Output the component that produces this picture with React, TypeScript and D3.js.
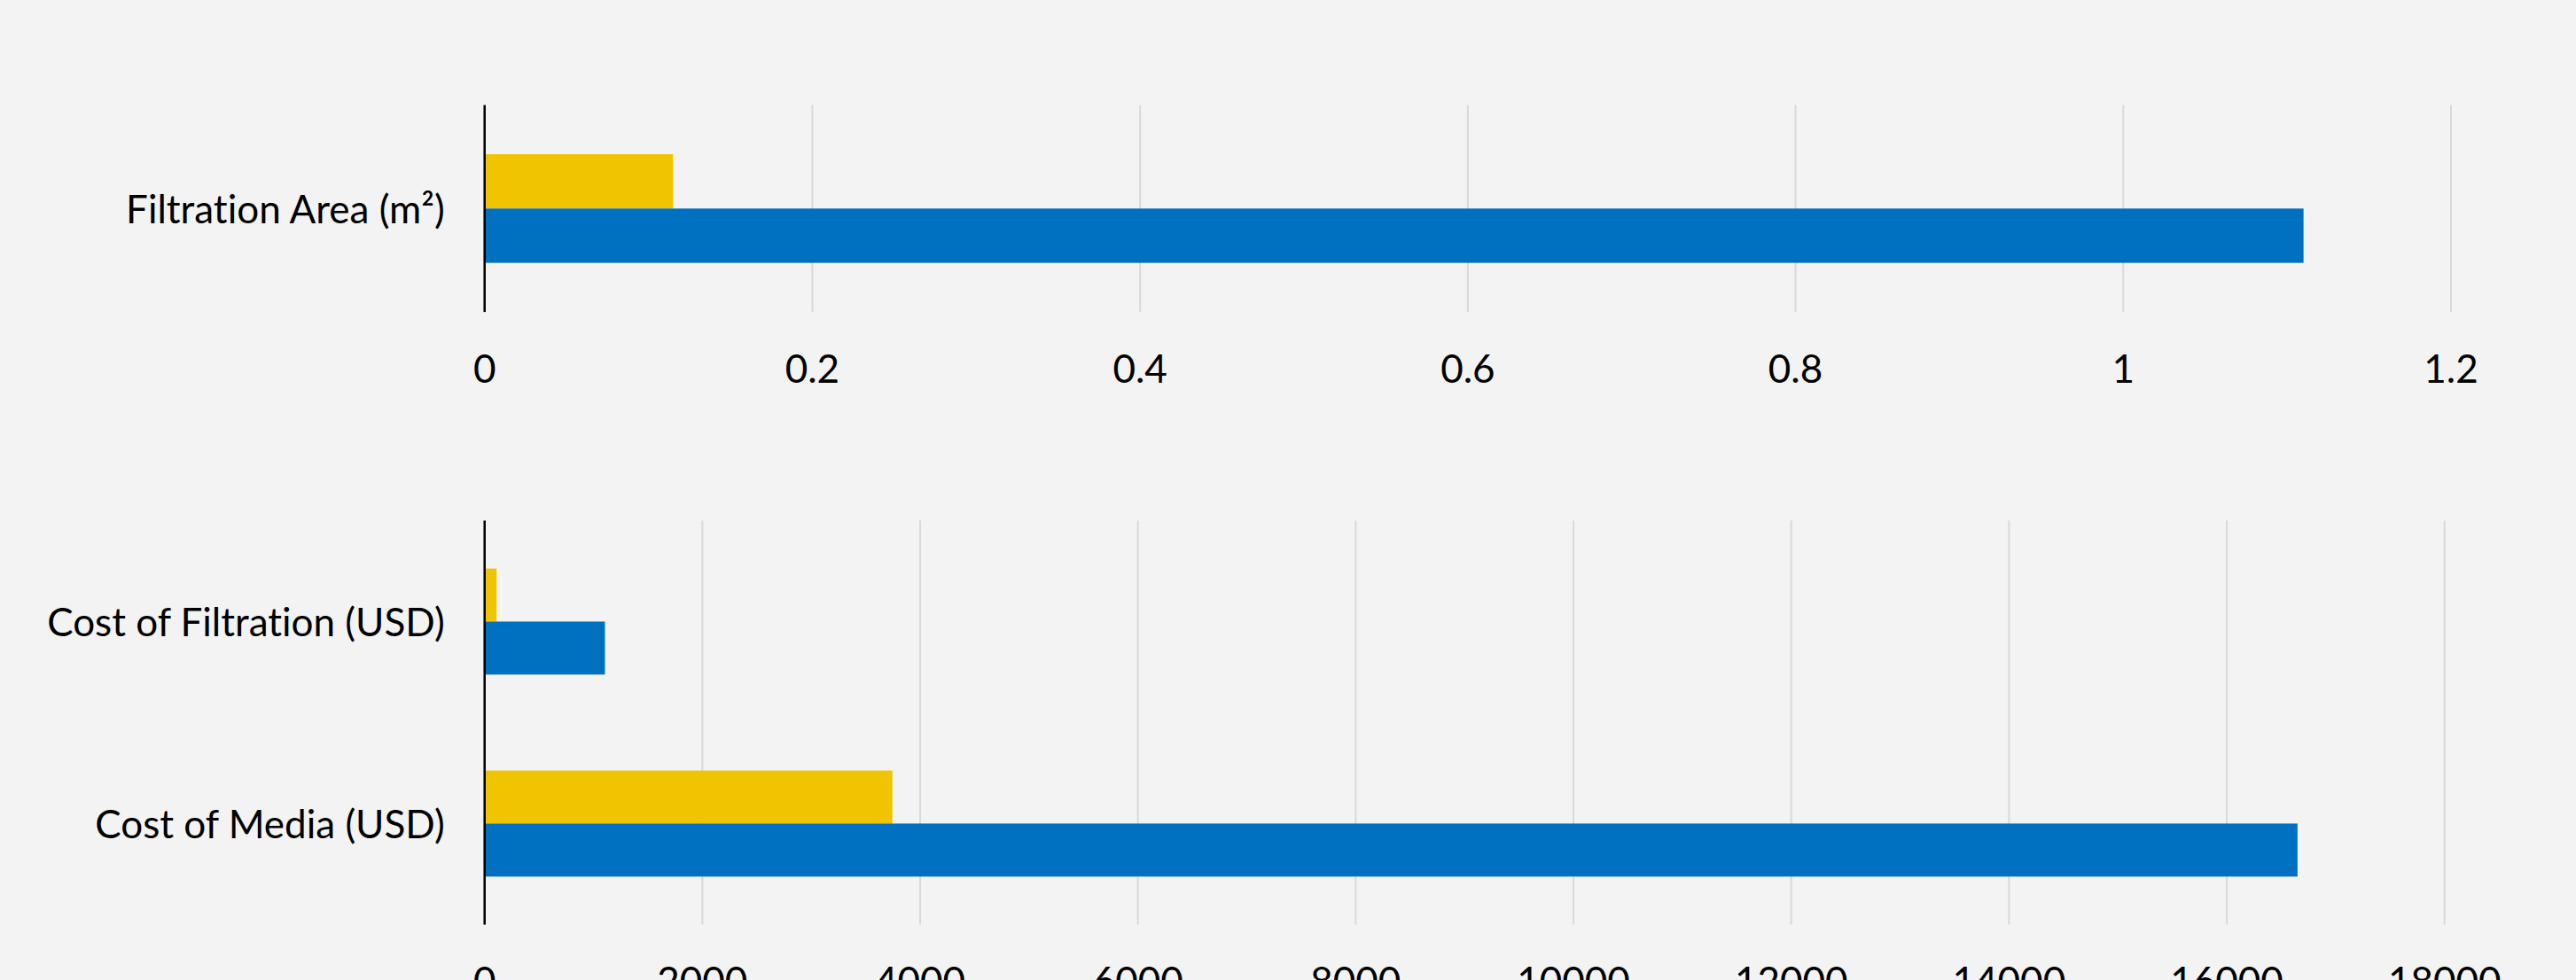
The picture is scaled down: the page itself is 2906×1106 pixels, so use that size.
import React from "react";
import * as d3 from "d3";

const topCategories = ["Filtration Area (m²)"];
const topBlue = [1.11];
const topYellow = [0.115];
const topTicks = [0, 0.2, 0.4, 0.6, 0.8, 1, 1.2];

const bottomCategories = ["Cost of Filtration (USD)", "Cost of Media (USD)"];
const bottomBlue = [1105, 16650];
const bottomYellow = [110, 3745];
const bottomTicks = [0, 2000, 4000, 6000, 8000, 10000, 12000, 14000, 16000, 18000];

const W = 2906;
const H = 1106;
const BLUE = "#0070C0";
const YELLOW = "#F0C400";
const BG = "#F3F3F3";
const GRID = "#D9D9D9";
const FONT = "Lato, 'Open Sans', sans-serif";
const TEXT_STYLE = { fontVariantLigatures: "none" as const };

type PanelProps = {
  categories: string[];
  blue: number[];
  yellow: number[];
  ticks: number[];
  domainMax: number;
  x0: number;
  x1: number;
  y0: number;
  y1: number;
};

function Panel({ categories, blue, yellow, ticks, domainMax, x0, x1, y0, y1 }: PanelProps) {
  const x = d3.scaleLinear().domain([0, domainMax]).range([x0, x1]);
  const y = d3.scaleBand<string>().domain(categories).range([y0, y1]).paddingInner(0).paddingOuter(0);
  const step = y.step();
  const group = step * 0.525;
  const inner = d3
    .scaleBand<string>()
    .domain(["yellow", "blue"])
    .range([(step - group) / 2, (step + group) / 2]);
  const bh = inner.bandwidth();
  return (
    <g>
      {ticks.map((t) => (
        <line key={"g" + t} x1={x(t)} x2={x(t)} y1={y0} y2={y1} stroke={GRID} strokeWidth={2} />
      ))}
      {categories.map((c, i) => (
        <g key={c}>
          <rect x={x(0)} y={(y(c) as number) + (inner("yellow") as number)} width={x(yellow[i]) - x(0)} height={bh} fill={YELLOW} />
          <rect x={x(0)} y={(y(c) as number) + (inner("blue") as number)} width={x(blue[i]) - x(0)} height={bh} fill={BLUE} />
          <text
            x={x0 - 45}
            y={(y(c) as number) + step / 2}
            textAnchor="end"
            dominantBaseline="central"
            fontFamily={FONT}
            fontSize={44}
            fill="#000"
            style={TEXT_STYLE}
          >
            {c}
          </text>
        </g>
      ))}
      <line x1={x(0)} x2={x(0)} y1={y0} y2={y1} stroke="#000" strokeWidth={2.5} />
      {ticks.map((t) => (
        <text
          key={"t" + t}
          x={x(t)}
          y={y1 + 63}
          textAnchor="middle"
          dominantBaseline="central"
          fontFamily={FONT}
          fontSize={44}
          fill="#000"
          style={TEXT_STYLE}
        >
          {String(t)}
        </text>
      ))}
    </g>
  );
}

export default function App() {
  return (
    <svg
      width={W}
      height={H}
      viewBox={`0 0 ${W} ${H}`}
      style={{ position: "absolute", left: 0, top: 0, display: "block" }}
    >
      <rect x={0} y={0} width={W} height={H} fill={BG} />
      <Panel
        categories={topCategories}
        blue={topBlue}
        yellow={topYellow}
        ticks={topTicks}
        domainMax={1.2}
        x0={546.7}
        x1={2765}
        y0={118.6}
        y1={352.1}
      />
      <Panel
        categories={bottomCategories}
        blue={bottomBlue}
        yellow={bottomYellow}
        ticks={bottomTicks}
        domainMax={18000}
        x0={546.7}
        x1={2757.7}
        y0={587.5}
        y1={1043.4}
      />
    </svg>
  );
}
